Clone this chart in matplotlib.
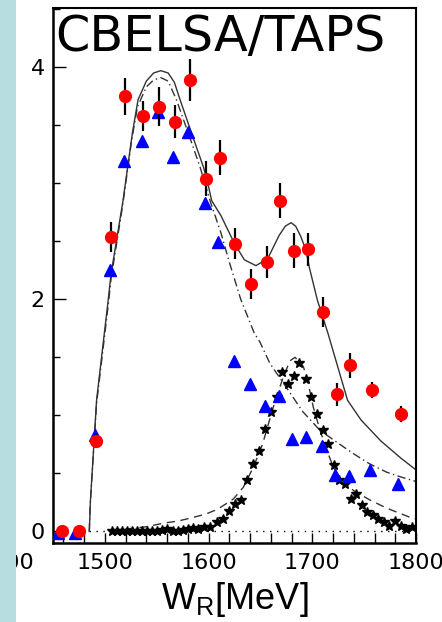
import numpy as np
import matplotlib
matplotlib.use("Agg")
import matplotlib.pyplot as plt
from matplotlib.patches import Rectangle
from matplotlib.ticker import MultipleLocator

plt.rcParams['font.family'] = ['DejaVu Sans']
plt.rcParams['mathtext.fontset'] = 'custom'
plt.rcParams['mathtext.rm'] = 'Liberation Sans'

# measured points (red) with errors
red_w = [1458.5, 1475, 1491.5, 1506, 1519.5, 1536.5, 1552.5, 1567.5, 1582, 1597.5, 1611,
         1625.5, 1641, 1656, 1669, 1682, 1696, 1710.5, 1723.5, 1736.5, 1757.5, 1785.5]
red_v = [0.0, 0.0, 0.78, 2.54, 3.75, 3.58, 3.66, 3.53, 3.89, 3.04, 3.22,
         2.48, 2.13, 2.32, 2.85, 2.42, 2.43, 1.89, 1.18, 1.43, 1.22, 1.01]
red_err = [0.0, 0.0, 0.06, 0.13, 0.16, 0.13, 0.17, 0.14, 0.18, 0.15, 0.15,
           0.13, 0.13, 0.14, 0.15, 0.15, 0.14, 0.13, 0.10, 0.11, 0.07, 0.07]

# blue triangles
blue_w = [1455, 1471, 1490.5, 1505, 1518.5, 1535.5, 1551.5, 1566, 1580.5, 1596.5, 1609.5,
          1624.5, 1639.5, 1654.5, 1668, 1680, 1694, 1709, 1722, 1735, 1756, 1783]
blue_v = [-0.01, -0.01, 0.83, 2.25, 3.19, 3.36, 3.61, 3.23, 3.44, 2.83, 2.49,
          1.47, 1.27, 1.08, 1.17, 0.80, 0.81, 0.74, 0.49, 0.48, 0.53, 0.41]

# stars
star_w = [1506.6, 1511.4, 1516.2, 1521.1, 1525.9, 1530.7, 1535.5, 1540.4, 1545.2, 1550.0,
          1554.8, 1560.2, 1566.0, 1570.8, 1575.6, 1580.5, 1585.3, 1590.1, 1595.6, 1601.0,
          1607.9, 1613.9, 1620.0, 1625.5, 1631.3, 1637.4, 1642.4, 1648.3, 1654.4, 1659.9,
          1665.7, 1671.1, 1676.3, 1682.4, 1687.5, 1693.7, 1698.8, 1704.3, 1710.1, 1715.5,
          1720.7, 1726.1, 1731.6, 1737.0, 1742.2, 1747.7, 1753.1, 1758.3, 1763.7, 1769.2,
          1774.3, 1779.8, 1785.3, 1790.4, 1795.9]
star_v = [0.0, 0.0, 0.0, 0.0, 0.0, 0.0, 0.0, 0.0, 0.0, 0.0,
          0.01, 0.02, 0.0, 0.0, 0.01, 0.02, 0.03, 0.02, 0.04, 0.04,
          0.08, 0.11, 0.18, 0.24, 0.27, 0.44, 0.58, 0.69, 0.88, 1.03,
          1.16, 1.37, 1.27, 1.34, 1.45, 1.31, 1.16, 1.01, 0.87, 0.75,
          0.57, 0.44, 0.41, 0.28, 0.32, 0.23, 0.17, 0.14, 0.11, 0.08,
          0.05, 0.09, 0.05, 0.02, 0.04]

# fit curves
solid_w = [1485, 1486, 1492, 1503.3, 1506, 1517.5, 1526.5, 1532, 1540, 1547, 1554, 1561, 1567,
           1572.5, 1583.7, 1595, 1598, 1603, 1612, 1625, 1634.5, 1645.7, 1657, 1668, 1674,
           1679.5, 1684, 1689, 1694, 1697, 1705, 1715, 1724.5, 1734, 1747, 1766, 1785.6, 1800]
solid_v = [0.0, 0.25, 1.13, 2.0, 2.22, 2.85, 3.43, 3.72, 3.88, 3.95, 3.97, 3.95, 3.87,
           3.72, 3.43, 3.14, 3.05, 2.85, 2.72, 2.48, 2.34, 2.29, 2.35, 2.55, 2.63,
           2.66, 2.63, 2.54, 2.42, 2.28, 1.99, 1.71, 1.42, 1.13, 0.96, 0.78, 0.63, 0.53]

dashdot_w = [1485, 1486, 1492, 1503.5, 1506, 1517, 1526, 1531.5, 1540, 1547, 1554, 1561, 1569,
             1580.5, 1591.8, 1601.4, 1612, 1620, 1631, 1644, 1649.6, 1659, 1675, 1691, 1707.5,
             1725, 1739.6, 1755.7, 1771.8, 1785, 1800]
dashdot_v = [0.0, 0.25, 1.1, 1.97, 2.18, 2.8, 3.38, 3.66, 3.83, 3.89, 3.91, 3.88, 3.72,
             3.43, 3.14, 2.85, 2.57, 2.32, 2.0, 1.71, 1.63, 1.45, 1.24, 1.03, 0.87,
             0.76, 0.67, 0.58, 0.51, 0.47, 0.43]

dash_w = [1520, 1540, 1556, 1571, 1585, 1597.5, 1608.5, 1619, 1624, 1633.5, 1643, 1652, 1657.5,
          1662.4, 1672, 1678.5, 1683.4, 1691.4, 1696.2, 1701, 1707.5, 1714, 1720, 1727,
          1740, 1755.7, 1771.8, 1797.4, 1800]
dash_v = [0.02, 0.04, 0.07, 0.09, 0.12, 0.15, 0.19, 0.25, 0.28, 0.38, 0.55, 0.75, 0.92,
          1.07, 1.33, 1.47, 1.50, 1.42, 1.27, 1.07, 0.87, 0.70, 0.56, 0.46,
          0.35, 0.27, 0.20, 0.11, 0.11]

fig = plt.figure(figsize=(4.42, 6.22), dpi=100)
ax = fig.add_axes([53/442, 1 - 543/622, (416-53)/442, (543-8)/622])

ax.plot([1485, 1800], [0, 0], color='black', lw=1.0, ls=(0, (1, 4)), zorder=1)
ax.plot(solid_w, solid_v, color='#333333', lw=1.0, zorder=2)
ax.plot(dashdot_w, dashdot_v, color='#333333', lw=1.0, ls=(0, (6, 2.5, 1, 2.5)), zorder=2)
ax.plot(dash_w, dash_v, color='#333333', lw=1.0, ls=(0, (6, 4)), zorder=2)

ax.plot(star_w, star_v, ls='none', marker='*', ms=7, color='black', zorder=3)
ax.plot(blue_w, blue_v, ls='none', marker='^', ms=8, color='#0000ff', zorder=4)
ax.errorbar(red_w, red_v, yerr=red_err, fmt='none', ecolor='black', elinewidth=1.6,
            capsize=0, zorder=5)
ax.plot(red_w, red_v, ls='none', marker='o', ms=8.5, color='#ff0000', zorder=6)

ax.set_xlim(1450, 1800)
ax.set_ylim(-0.1, 4.51)

ax.xaxis.set_major_locator(MultipleLocator(100))
ax.xaxis.set_minor_locator(MultipleLocator(20))
ax.yaxis.set_major_locator(MultipleLocator(2))
ax.yaxis.set_minor_locator(MultipleLocator(0.5))
ax.tick_params(axis='x', which='both', direction='in', length=7, width=1, top=False,
               labelsize=16, pad=7)
ax.tick_params(axis='y', which='major', direction='in', length=9, width=1, right=False,
               labelsize=16, pad=6)
ax.tick_params(axis='y', which='minor', direction='in', length=5, width=1, right=False)
ax.set_xticks([1500, 1600, 1700, 1800])
ax.set_yticks([0, 2, 4])

for side in ['left', 'bottom']:
    ax.spines[side].set_linewidth(1.8)
for side in ['top', 'right']:
    ax.spines[side].set_linewidth(1.5)

# label of the first decade, half hidden at the left border
ax.text(1405, -0.184, '1400', ha='center', va='top', fontsize=16, clip_on=False)

ax.set_xlabel(r'W$_{\mathrm{R}}$[MeV]', fontsize=26, family='Liberation Sans', labelpad=5)

ax.text(0.005, 0.99, 'CBELSA/TAPS', transform=ax.transAxes, ha='left', va='top',
        fontsize=35.5)

fig.patches.append(Rectangle((0, 0), 16/442, 1, transform=fig.transFigure,
                             facecolor='#b8dde1', edgecolor='none', zorder=10))

fig.savefig('out.png', dpi=100)
